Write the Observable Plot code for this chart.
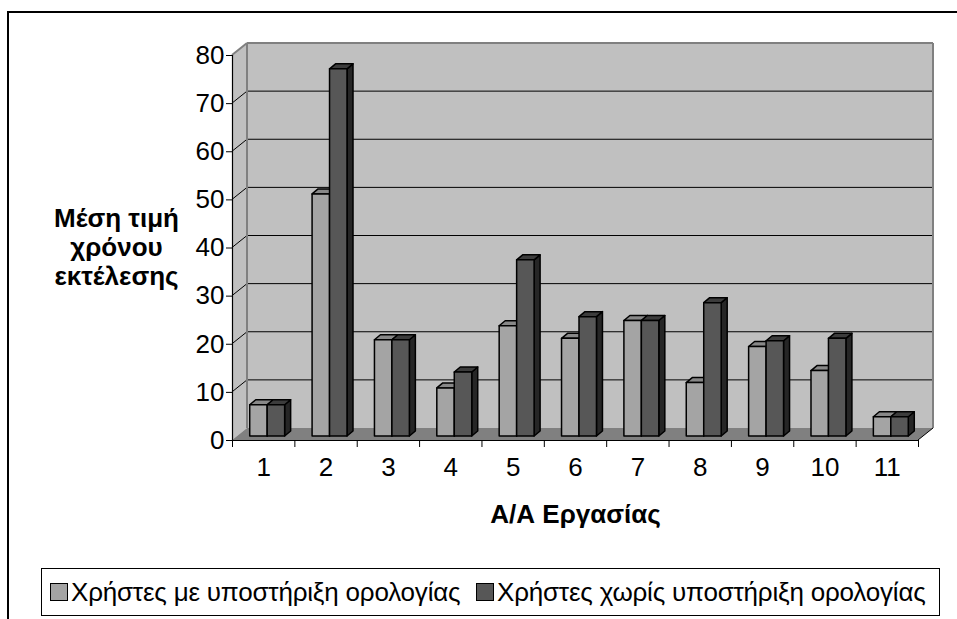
<!DOCTYPE html>
<html>
<head>
<meta charset="utf-8">
<script src="https://cdn.jsdelivr.net/npm/d3@7"></script>
<script src="https://cdn.jsdelivr.net/npm/@observablehq/plot@0.6"></script>
<style>
html, body { margin: 0; padding: 0; background: #fff; width: 957px; height: 619px; overflow: hidden; }
#wrap { position: relative; width: 957px; height: 619px; overflow: hidden; font-family: Arial, "Liberation Sans", sans-serif; }
#frame { position: absolute; left: 7px; top: 11px; width: 1000px; height: 700px; border: 2px solid #000; box-sizing: border-box; }
#chart { position: absolute; left: 0; top: 0; }
#legend { position: absolute; left: 41px; top: 568px; width: 899px; height: 48px; border: 1px solid #000; box-sizing: border-box; background: #fff; }
.item { position: absolute; top: 0; height: 46px; display: flex; align-items: center; white-space: nowrap; font-size: 26px; letter-spacing: -0.2px; color: #000; }
.sw { width: 16px; height: 16px; border: 1px solid #000; margin-right: 3px; }
</style>
</head>
<body>
<div id="wrap">
  <div id="frame"></div>
  <div id="chart"></div>
  <div id="legend"></div>
</div>
<script>
// ---- data ----
const tasks = [1, 2, 3, 4, 5, 6, 7, 8, 9, 10, 11];
const withSupport = [6.5, 50.3, 20, 10, 22.9, 20.3, 24, 11.1, 18.6, 13.6, 4];
const withoutSupport = [6.5, 76.3, 20, 13.3, 36.6, 24.8, 24, 27.7, 19.8, 20.3, 4];
const seriesNames = ["Χρήστες με υποστήριξη ορολογίας", "Χρήστες χωρίς υποστήριξη ορολογίας"];
const yTicks = [0, 10, 20, 30, 40, 50, 60, 70, 80];
const xTitle = "Α/Α Εργασίας";
const yTitle = ["Μέση τιμή", "χρόνου", "εκτέλεσης"];

// ---- styles ----
const frontColors = ["#a4a4a4", "#575757"];
const topColors = ["#888888", "#3c3c3c"];
const sideColors = ["#707070", "#262626"];
const WALL = [15, -12];   // depth of the back wall (px)
const SHIFT = [4, -4];    // bars sit a little into the depth
const DEPTH = [6, -5];    // bar depth (px)
const BAR = 0.28;         // bar width in category units

const rows = tasks.flatMap((t, i) => [
  {task: t, s: 0, value: withSupport[i]},
  {task: t, s: 1, value: withoutSupport[i]}
]);
const xDomain = [tasks[0] - 0.5, tasks[tasks.length - 1] + 0.5];
const boundaries = tasks.map(t => t - 0.5).concat([xDomain[1]]);

function path(pts) { return "M" + pts.map(p => p[0] + "," + p[1]).join("L") + "Z"; }
function line(g, a, b, stroke, w) {
  g.append("line").attr("x1", a[0]).attr("y1", a[1]).attr("x2", b[0]).attr("y2", b[1])
    .attr("stroke", stroke).attr("stroke-width", w);
}

// walls, floor and gridlines, drawn through the scales
function wallsRender(index, scales) {
  const g = d3.create("svg:g");
  const [wx, wy] = WALL;
  const xa = scales.x(xDomain[0]), xb = scales.x(xDomain[1]);
  const y0 = scales.y(yTicks[0]), yTop = scales.y(yTicks[yTicks.length - 1]);
  g.append("path").attr("d", path([[xa, y0], [xa, yTop], [xa + wx, yTop + wy], [xa + wx, y0 + wy]])).attr("fill", "#c0c0c0");
  g.append("path").attr("d", path([[xa + wx, yTop + wy], [xb + wx, yTop + wy], [xb + wx, y0 + wy], [xa + wx, y0 + wy]])).attr("fill", "#c0c0c0");
  g.append("path").attr("d", path([[xa, y0], [xb, y0], [xb + wx, y0 + wy], [xa + wx, y0 + wy]])).attr("fill", "#808080");
  for (const t of yTicks.slice(1, -1)) {
    const y = scales.y(t);
    line(g, [xa + wx, y + wy], [xb + wx, y + wy], "#000", 1);
    line(g, [xa, y], [xa + wx, y + wy], "#000", 1);
  }
  line(g, [xa, yTop], [xa + wx, yTop + wy], "#808080", 2);
  line(g, [xa + wx, yTop + wy], [xb + wx, yTop + wy], "#808080", 2);
  line(g, [xa + wx, yTop + wy], [xa + wx, y0 + wy], "#808080", 2);
  line(g, [xb + wx, yTop + wy], [xb + wx, y0 + wy], "#808080", 2);
  line(g, [xb, y0], [xb + wx, y0 + wy], "#000", 1);
  return g.node();
}

// 3D prisms for the bars
function barsRender(index, scales, values) {
  const g = d3.create("svg:g").attr("stroke", "#000").attr("stroke-width", 1.5).attr("stroke-linejoin", "round");
  const [sx, sy] = SHIFT, [dx, dy] = DEPTH;
  for (const i of index) {
    const s = rows[i].s;
    const x1 = values.x1[i] + sx, x2 = values.x2[i] + sx;
    const yt = values.y2[i] + sy, yb = values.y1[i] + sy;
    g.append("path").attr("d", path([[x2, yb], [x2, yt], [x2 + dx, yt + dy], [x2 + dx, yb + dy]])).attr("fill", sideColors[s]);
    g.append("path").attr("d", path([[x1, yt], [x2, yt], [x2 + dx, yt + dy], [x1 + dx, yt + dy]])).attr("fill", topColors[s]);
    g.append("path").attr("d", path([[x1, yt], [x2, yt], [x2, yb], [x1, yb]])).attr("fill", frontColors[s]);
  }
  return g.node();
}

const FS = 26;
const chart = Plot.plot({
  width: 957,
  height: 560,
  marginLeft: 232,
  marginRight: 39,
  marginTop: 55,
  marginBottom: 120,
  style: {fontFamily: "Arial, 'Liberation Sans', sans-serif", fontSize: FS + "px", color: "#000", background: "transparent", overflow: "visible"},
  x: {type: "linear", domain: xDomain},
  y: {domain: [yTicks[0], yTicks[yTicks.length - 1]]},
  marks: [
    Plot.frame({stroke: "none", render: wallsRender}),
    Plot.rect(rows, {
      x1: d => d.task - (d.s === 0 ? BAR : 0),
      x2: d => d.task + (d.s === 0 ? 0 : BAR),
      y1: 0,
      y2: "value",
      render: barsRender
    }),
    Plot.ruleX([xDomain[0]], {y1: yTicks[0], y2: yTicks[yTicks.length - 1], stroke: "#000", strokeWidth: 1.2}),
    Plot.ruleY([yTicks[0]], {x1: xDomain[0], x2: xDomain[1], stroke: "#000", strokeWidth: 1.2}),
    Plot.axisY(yTicks, {anchor: "left", tickSize: 6, tickPadding: 2, fontSize: FS, label: null, stroke: "#000"}),
    Plot.axisX(boundaries, {anchor: "bottom", tickSize: 7, tickFormat: () => "", label: null, stroke: "#000"}),
    Plot.text(tasks, {x: d => d, frameAnchor: "bottom", dy: 27, lineAnchor: "middle", fontSize: FS}),
    Plot.text([xTitle], {frameAnchor: "bottom", dy: 74, lineAnchor: "middle", fontSize: FS, fontWeight: "bold"}),
    Plot.text([yTitle.join("\n")], {frameAnchor: "left", dx: -116, dy: -1.5, textAnchor: "middle", lineAnchor: "middle", lineHeight: 1.12, fontSize: FS, fontWeight: "bold"})
  ]
});
document.getElementById("chart").appendChild(chart);

// legend
const legend = document.getElementById("legend");
const lefts = [8, 434];
seriesNames.forEach((name, i) => {
  const item = document.createElement("div");
  item.className = "item";
  item.style.left = lefts[i] + "px";
  const sw = document.createElement("div");
  sw.className = "sw";
  sw.style.background = frontColors[i];
  const tx = document.createElement("span");
  tx.textContent = name;
  item.appendChild(sw);
  item.appendChild(tx);
  legend.appendChild(item);
});
</script>
</body>
</html>
